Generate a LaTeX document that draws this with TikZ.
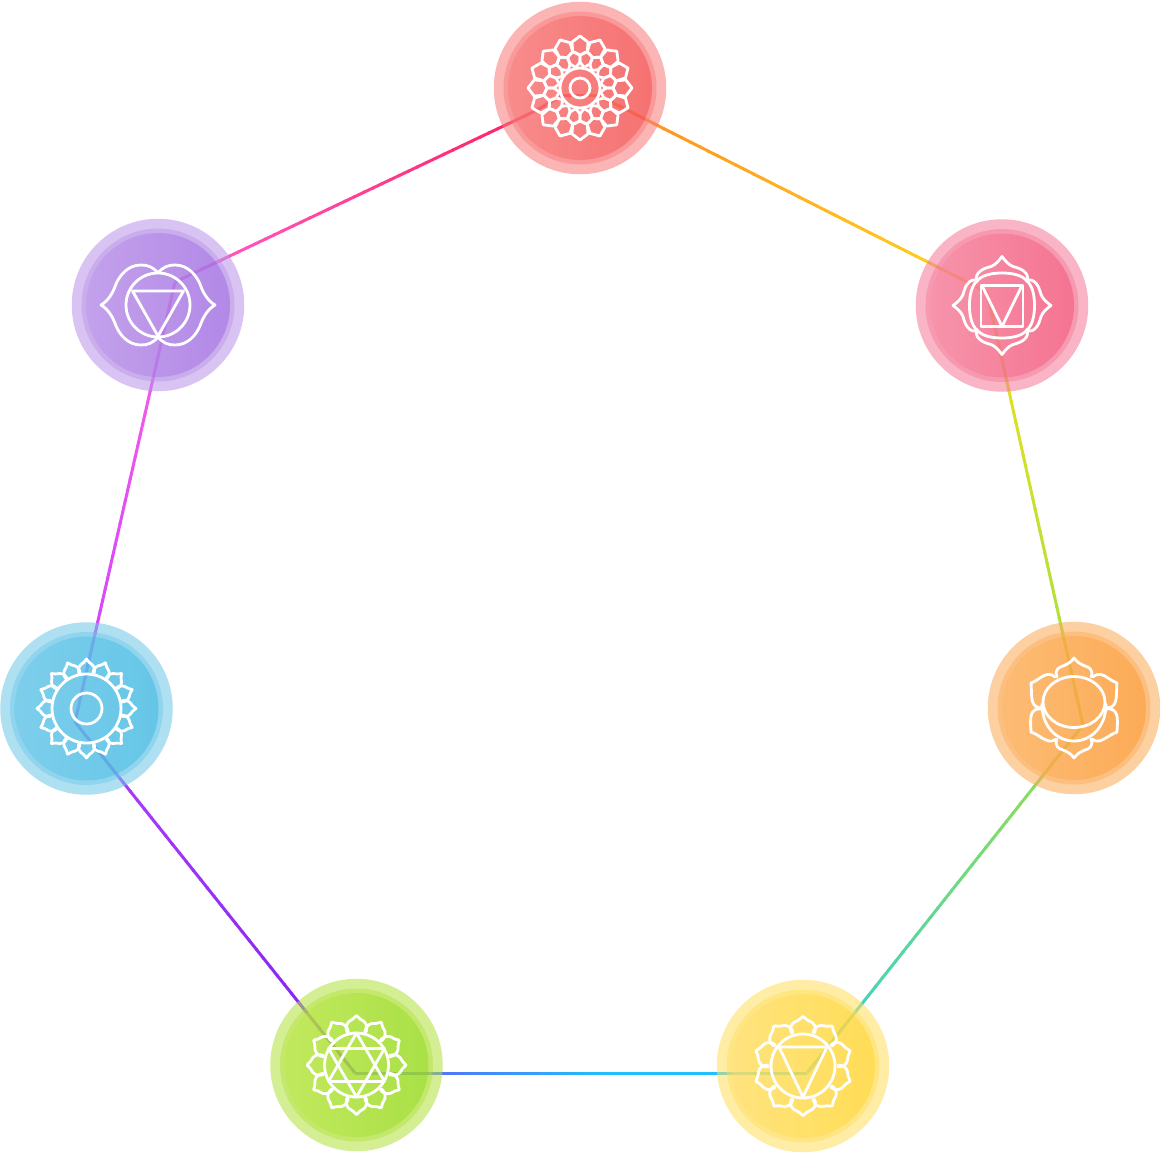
\documentclass[tikz,border=0pt]{standalone}
\usetikzlibrary{calc}
\definecolor{topB}{RGB}{247,120,120}\definecolor{topL}{RGB}{250,115,115}\definecolor{topR}{RGB}{240,40,40}
\definecolor{pnkB}{RGB}{244,120,151}\definecolor{pnkL}{RGB}{247,138,162}\definecolor{pnkR}{RGB}{241,46,87}
\definecolor{purB}{RGB}{184,146,231}\definecolor{purL}{RGB}{184,140,232}\definecolor{purR}{RGB}{135,69,222}
\definecolor{orgB}{RGB}{251,170,86}\definecolor{orgL}{RGB}{255,182,95}\definecolor{orgR}{RGB}{255,135,10}
\definecolor{bluB}{RGB}{108,199,231}\definecolor{bluL}{RGB}{90,196,232}\definecolor{bluR}{RGB}{23,170,222}
\definecolor{grnB}{RGB}{177,224,60}\definecolor{grnL}{RGB}{190,236,66}\definecolor{grnR}{RGB}{120,212,0}
\definecolor{ylwB}{RGB}{255,222,93}\definecolor{ylwL}{RGB}{255,222,115}\definecolor{ylwR}{RGB}{255,205,0}
\definecolor{l1}{HTML}{FF2060}\definecolor{l2}{HTML}{FF9020}\definecolor{l3}{HTML}{FFD81E}
\definecolor{l4}{HTML}{F0E020}\definecolor{l5}{HTML}{A0E040}\definecolor{l6}{HTML}{30D0D8}
\definecolor{l7}{HTML}{20C0FF}\definecolor{l8}{HTML}{6A50F0}\definecolor{l9}{HTML}{8020F0}
\definecolor{l10}{HTML}{B040FF}\definecolor{l11}{HTML}{C840FF}\definecolor{l12}{HTML}{FF60E8}
\definecolor{l13}{HTML}{FF60D0}
\tikzset{
 outerdisc/.style={circle,inner sep=0pt,minimum size=172.5pt,draw=none,fill=#1,fill opacity=.55},
 middisc/.style={circle,inner sep=0pt,minimum size=153pt,draw=none,fill=#1,fill opacity=.45},
 icon/.style={draw=white,line width=2.8pt,line join=round,line cap=round,fill=none},
 rainbow/.style={line width=3pt,line cap=butt}
}
\newcommand\chakraline[4]{%
 \foreach \i in {1,...,40}{%
  \pgfmathsetmacro\tA{(\i-1)/40}%
  \pgfmathsetmacro\tB{min(1,\i/40+0.004)}%
  \pgfmathsetmacro\pc{100*(\i-.5)/40}%
  \draw[rainbow,color=#4!\pc!#3] ($(#1)!\tA!(#2)$) -- ($(#1)!\tB!(#2)$);
 }}
\newcommand\chakradisc[4]{%
 \node[outerdisc=#3B] (#1) at (#2) {};
 \node[middisc=#3B] (#1mid) at (#2) {};
 \node[circle,inner sep=0pt,minimum size=#4,left color=#3L,right color=#3R,fill opacity=.35,draw=none] (#1in) at (#2) {};
}
% ring of ogee petals: count, half width, base radius, tip radius
\newcommand\lotus[4]{%
 \foreach \k in {1,...,#1}{%
  \pgfmathsetmacro\a{(\k-1)*360/#1}%
  \draw[icon,rotate=\a] ({-#2},{-#3}) .. controls ({-#2*1.15},{-#3-4}) and ({-#2*1.1},{-#4+9}) .. ({-#2*.8},{-#4+6})
     .. controls ({-#2*.5},{-#4+4}) and ({-#2*.2},{-#4+3}) .. (0,{-#4})
     .. controls ({#2*.2},{-#4+3}) and ({#2*.5},{-#4+4}) .. ({#2*.8},{-#4+6})
     .. controls ({#2*1.1},{-#4+9}) and ({#2*1.15},{-#3-4}) .. ({#2},{-#3});
 }}
\begin{document}
\begin{tikzpicture}[x=1pt,y=-1pt]
\useasboundingbox (0,0) rectangle (1160,1152);
\coordinate (vTopL) at (533,112);
\coordinate (vTopA) at (563,95);
\coordinate (vTopB) at (597,95);
\coordinate (vTopR) at (627,110);
\coordinate (vPink) at (987,292);
\coordinate (vOrange) at (1083,725);
\coordinate (vYellow) at (807,1073);
\coordinate (vMid) at (610,1073);
\coordinate (vGreen) at (355,1073);
\coordinate (vBlue) at (75,722);
\coordinate (vPurple) at (175,282);
\chakraline{vTopL}{vTopA}{l1}{l1}
\chakraline{vTopA}{vTopB}{l1}{l2}
\chakraline{vTopB}{vTopR}{l2}{l2}
\chakraline{vTopR}{vPink}{l2}{l3}
\chakraline{vPink}{vOrange}{l4}{l5}
\chakraline{vOrange}{vYellow}{l5}{l6}
\chakraline{vYellow}{vMid}{l7}{l7}
\chakraline{vMid}{vGreen}{l7}{l8}
\chakraline{vGreen}{vBlue}{l9}{l10}
\chakraline{vBlue}{vPurple}{l11}{l12}
\chakraline{vPurple}{vTopL}{l13}{l1}
\chakradisc{crown}{580,88}{top}{144pt}
\chakradisc{root}{1002,305.5}{pnk}{144pt}
\chakradisc{eye}{158,305}{pur}{144pt}
\chakradisc{sacral}{1074,708}{org}{144pt}
\chakradisc{throat}{86.5,708.5}{blu}{144pt}
\chakradisc{heart}{356.5,1065}{grn}{144pt}
\chakradisc{solar}{803,1066}{ylw}{144pt}
% crown icon
\begin{scope}[shift={(crown.center)}]
 \draw[icon] (0,0) circle (10);
 \draw[icon] (0,0) circle (20);
 \foreach \k in {0,...,15}{%
  \pgfmathsetmacro\a{\k*22.5-90}%
  \pgfmathsetmacro\b{\a+11.25}%
  \draw[icon] (\a:52) -- ({\a+10}:46.5) -- ({\a+11.25}:37) -- (\a:33) -- ({\a-11.25}:37) -- ({\a-10}:46.5) -- cycle;
  \draw[icon] (\b:37) -- ({\b+11.25}:33) -- ({\b+11.25}:26) -- (\b:21) -- ({\b-11.25}:26) -- ({\b-11.25}:33) -- cycle;
 }
\end{scope}
% root icon
\begin{scope}[shift={(root.center)}]
 \foreach \r in {0,90,180,270}{%
  \draw[icon,rotate=\r] (-25,-24) .. controls (-28,-33) and (-19,-37) .. (-11,-39) .. controls (-6,-41) and (-3,-45) .. (0,-49)
    .. controls (3,-45) and (6,-41) .. (11,-39) .. controls (19,-37) and (28,-33) .. (25,-24);
  \draw[icon,rotate=\r] (0,-32.5) .. controls (23,-32.5) and (32.5,-23) .. (32.5,0);
 }
 \draw[icon] (-21,-20) rectangle (21,21);
 \draw[icon] (-20,-20) -- (0,21) -- (20,-20);
\end{scope}
% third-eye icon
\begin{scope}[shift={(eye.center)}]
 \draw[icon] (0,0) circle (32);
 \draw[icon] (-25.5,-14) -- (25.5,-14) -- (0,31) -- cycle;
 \draw[icon] (0,-32) .. controls (-5,-38) and (-10,-40) .. (-17,-40) .. controls (-30,-40) and (-38,-30) .. (-42,-21) .. controls (-45,-12) and (-50,-4) .. (-57,0)
   .. controls (-50,4) and (-45,12) .. (-42,21) .. controls (-38,30) and (-30,40) .. (-17,40) .. controls (-10,40) and (-5,38) .. (0,32)
   .. controls (5,38) and (10,40) .. (17,40) .. controls (30,40) and (38,30) .. (42,21) .. controls (45,12) and (50,4) .. (57,0)
   .. controls (50,-4) and (45,-12) .. (42,-21) .. controls (38,-30) and (30,-40) .. (17,-40) .. controls (10,-40) and (5,-38) .. (0,-32);
\end{scope}
% sacral icon
\begin{scope}[shift={(sacral.center)}]
 \draw[icon] (0,-6) ellipse (31 and 25.5);
 \draw[icon] (-32,-4) .. controls (-32,20) and (-16,33) .. (0,33) .. controls (16,33) and (32,20) .. (32,-4);
 \foreach \s in {1,-1}{%
  \begin{scope}[yscale=\s]
   \draw[icon] (-17,-31) .. controls (-20,-38) and (-15,-41) .. (-11,-42) .. controls (-6,-44) and (-3,-46) .. (0,-50)
     .. controls (3,-46) and (6,-44) .. (11,-42) .. controls (15,-41) and (20,-38) .. (17,-31);
  \end{scope}
 }
 \foreach \s in {1,-1}{%
  \begin{scope}[xscale=\s]
   \draw[icon] (-19,-31) .. controls (-24,-36) and (-30,-33) .. (-34,-30) .. controls (-37,-28) and (-40,-26) .. (-43,-25)
     .. controls (-42,-15) and (-44,-4) .. (-37,-1) .. controls (-35,0) and (-33,0) .. (-31,-1);
   \draw[icon] (-32,1) .. controls (-37,0) and (-42,2) .. (-43,8) .. controls (-44,14) and (-43,20) .. (-43,24)
     .. controls (-37,26) and (-33,30) .. (-28,32) .. controls (-24,34) and (-20,33) .. (-18,31);
  \end{scope}
 }
\end{scope}
% throat icon
\begin{scope}[shift={(throat.center)}]
 \draw[icon] (0,0) circle (15.5);
 \draw[icon] (0,0) circle (34.5);
 \lotus{16}{7.5}{35}{49.5}
\end{scope}
% heart icon
\begin{scope}[shift={(heart.center)}]
 \draw[icon] (0,0) circle (32);
 \draw[icon] (0,-32) -- (28,16.5) -- (-28,16.5) -- cycle;
 \draw[icon] (0,32) -- (28,-16.5) -- (-28,-16.5) -- cycle;
 \lotus{12}{9.5}{33}{49.5}
\end{scope}
% solar plexus icon
\begin{scope}[shift={(solar.center)}]
 \draw[icon] (0,0) circle (32);
 \draw[icon] (-24,-19) -- (24,-19) -- (0,31) -- cycle;
 \lotus{10}{11.5}{33}{49.5}
\end{scope}
\end{tikzpicture}
\end{document}
